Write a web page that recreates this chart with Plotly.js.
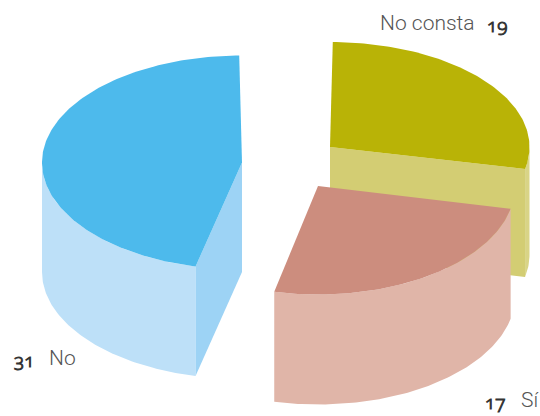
<!DOCTYPE html>
<html><head><meta charset="utf-8">
<script src="https://cdn.plot.ly/plotly-3.0.1.min.js"></script>
<style>
html,body{margin:0;padding:0;background:#fff}
.annotation-text{font-variant-numeric:oldstyle-nums;font-feature-settings:"onum" 1}
.annotation:nth-child(odd) .annotation-text{stroke:#333333;stroke-width:0.9px}
</style></head><body>
<div id="chart" style="width:540px;height:416px"></div>
<script>
const categories = ['No consta', 'Sí', 'No'];
const values = [19, 17, 31];
const topColors = ['#B9B306', '#CC8D7E', '#4DBAEC'];
const rimColors = ['#D9D486', '#E0B5A8', '#BDE0F8'];
const cutColors = ['#D3CD73', null, '#9DD3F5'];
const centersX = [330, 318, 242];
const centersY = [147, 186, 162.5];
const radiiX = [199.5, 197, 200];
const radiiY = [105, 108.5, 107];
const depths = [108, 110, 109.5];
const angleTrim = [[0.8, 0], [0, -0.6], [0, -0.8]];
const labelX = [474, 538, 49];
const labelShift = [3, 3, -2];
const labelY = [23, 400, 358];
const labelAnchor = ['right', 'right', 'left'];
const numberX = [497, 495, 24];
const numberY = [25, 402, 360];

const total = values.reduce((a, b) => a + b, 0);
const pt = (i, t) => {
  const r = t * Math.PI / 180;
  return [centersX[i] + radiiX[i] * Math.sin(r), centersY[i] - radiiY[i] * Math.cos(r)];
};
const arc = (i, a, b) => {
  const out = [];
  const n = Math.max(2, Math.ceil(Math.abs(b - a)));
  for (let k = 0; k <= n; k++) out.push(pt(i, a + (b - a) * k / n));
  return out;
};
const poly = (pts, color) => ({
  type: 'scatter', mode: 'lines', x: pts.map(p => p[0]), y: pts.map(p => p[1]),
  fill: 'toself', fillcolor: color, line: {width: 0, color: color},
  hoverinfo: 'skip', showlegend: false
});
const traces = [];
let cum = 0;
values.forEach((v, i) => {
  const a = cum + angleTrim[i][0];
  const b = cum + v / total * 360 + angleTrim[i][1];
  cum += v / total * 360;
  const d = depths[i];
  const down = p => [p[0], p[1] + d];
  const lo = Math.max(a, 90), hi = Math.min(b, 270);
  if (hi > lo) {
    const top = arc(i, lo, hi);
    traces.push(poly(top.concat(top.slice().reverse().map(down)), rimColors[i]));
  }
  if (cutColors[i]) {
    const c = [centersX[i], centersY[i]];
    const e = pt(i, i === 0 ? b : a);
    traces.push(poly([c, e, down(e), down(c)], cutColors[i]));
  }
  traces.push(poly([[centersX[i], centersY[i]]].concat(arc(i, a, b)), topColors[i]));
});
const annotations = [];
categories.forEach((c, i) => {
  annotations.push({x: labelX[i], y: labelY[i], xref: 'x', yref: 'y', text: c, showarrow: false,
    xanchor: labelAnchor[i], yanchor: 'middle', xshift: labelShift[i],
    font: {family: 'Roboto, sans-serif', size: 21, color: '#555555', weight: 300}});
  annotations.push({x: numberX[i], y: numberY[i], xref: 'x', yref: 'y', text: String(values[i]), showarrow: false,
    xanchor: 'center', yanchor: 'middle',
    font: {family: '"Noto Sans", sans-serif', size: 19, color: '#333333', weight: 300}});
});
Plotly.newPlot('chart', traces, {
  width: 540, height: 416, margin: {l: 0, r: 0, t: 0, b: 0},
  paper_bgcolor: '#fff', plot_bgcolor: '#fff', showlegend: false,
  xaxis: {range: [0, 540], visible: false, fixedrange: true},
  yaxis: {range: [416, 0], visible: false, fixedrange: true},
  annotations
}, {displayModeBar: false, staticPlot: true});
</script></body></html>
